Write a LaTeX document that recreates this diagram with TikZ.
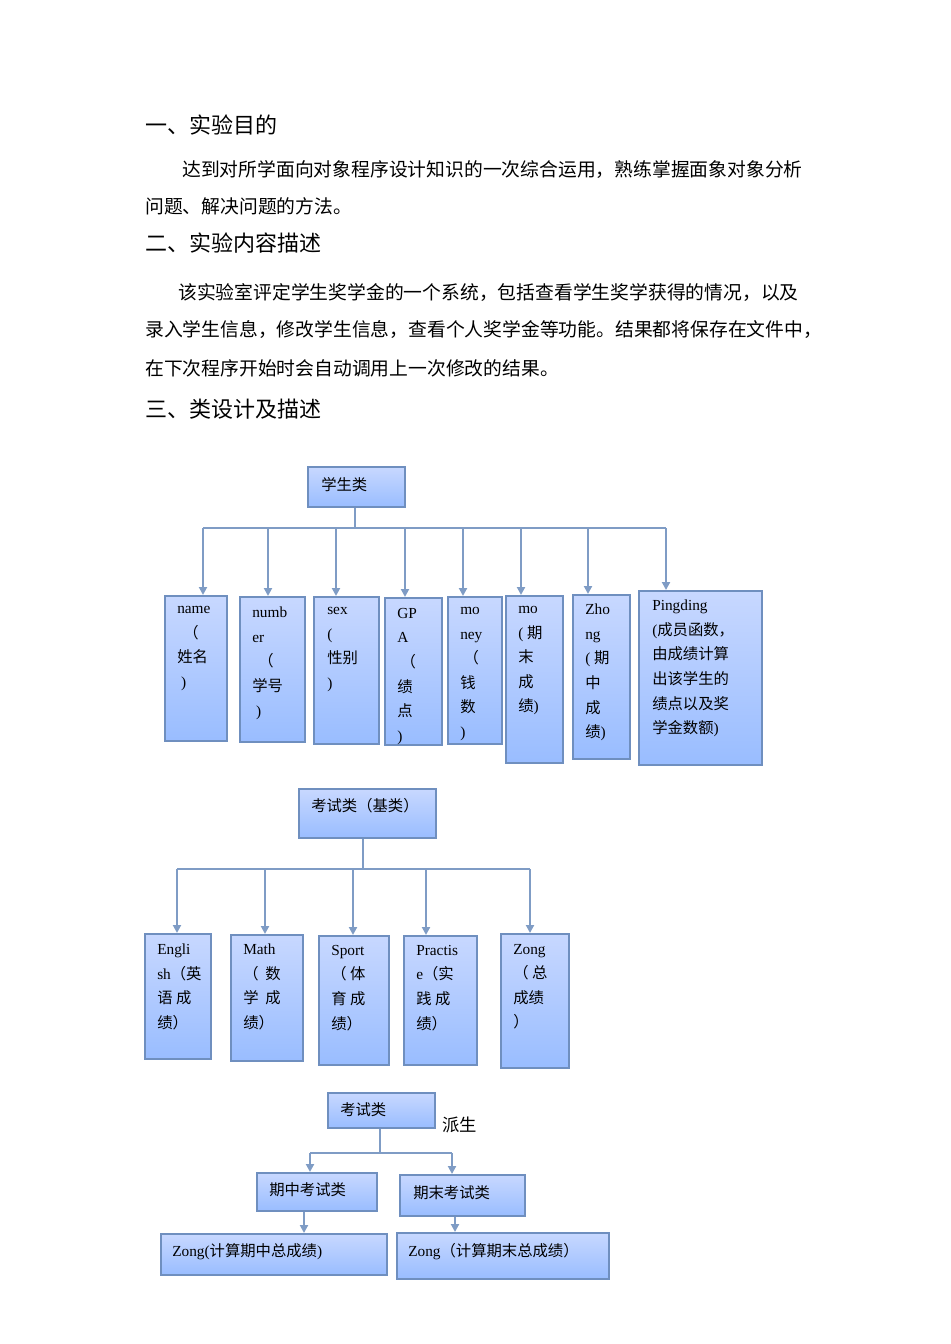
\documentclass[tikz,border=0pt]{standalone}
\usepackage{fontspec}
\setmainfont{Liberation Serif}
\newfontfamily\cjk{Noto Sans CJK SC}
\usetikzlibrary{arrows.meta}
\definecolor{lnc}{HTML}{7F9CC5}
\definecolor{bdc}{HTML}{6F8FBF}
\tikzset{
 bst/.style={draw=bdc, line width=1.6pt, top color=blue!6!cyan!8!white!85!blue, bottom color=blue!30!cyan!25!white!80!blue, inner sep=0pt},
 ln/.style={draw=lnc, line width=2pt},
 arr/.style={ln, -{Triangle[width=6pt,length=6pt]}},
 tx/.style={anchor=north west, align=left, inner sep=0pt, font=\fontsize{11.5}{18.4}\selectfont},
 hd/.style={anchor=west, inner sep=0pt, font=\fontsize{16.5}{20}\selectfont\cjk},
 pa/.style={anchor=west, inner sep=0pt, font=\fontsize{14.1}{20}\selectfont\cjk},
}
\newcommand\bx[5]{\node[bst, anchor=north west, minimum width={(#4-#2)*0.75pt}, minimum height={(#5-#3)*0.75pt}] (#1) at (#2,#3) {};}
\begin{document}
\begin{tikzpicture}[x=0.75pt,y=-0.75pt]
\useasboundingbox (0,0) rectangle (950,1344);
\node[hd] (h1) at (145,125) {一、实验目的};
\node[pa] (p1) at (182,170) {达到对所学面向对象程序设计知识的一次综合运用，熟练掌握面象对象分析};
\node[pa] (p2) at (145,206) {问题、解决问题的方法。};
\node[hd] (h2) at (145,243) {二、实验内容描述};
\node[pa] (p3) at (178,293) {该实验室评定学生奖学金的一个系统，包括查看学生奖学获得的情况，以及};
\node[pa] (p4) at (145,330) {录入学生信息，修改学生信息，查看个人奖学金等功能。结果都将保存在文件中，};
\node[pa] (p5) at (145,368) {在下次程序开始时会自动调用上一次修改的结果。};
\node[hd] (h3) at (145,409) {三、类设计及描述};

% tree 1
\bx{r1}{307}{466}{404}{506}
\node[tx] (r1t) at (321,477) {\cjk 学生类};
\bx{a1}{164}{595}{226}{740}
\bx{a2}{239}{596}{304}{741}
\bx{a3}{313}{596}{378}{743}
\bx{a4}{384}{597}{441}{744}
\bx{a5}{447}{596}{501}{743}
\bx{a6}{505}{595}{562}{762}
\bx{a7}{572}{594}{629}{758}
\bx{a8}{638}{590}{761}{764}
\node[tx] (a1t) at (177,606) {name\\\cjk\ \,（\\\cjk 姓名\\\ )};
\node[tx] (a2t) at (252,607) {numb\\er\\\cjk\ \,（\\\cjk 学号\\\ )};
\node[tx] (a3t) at (327,607) {sex\\(\\\cjk 性别\\)};
\node[tx] (a4t) at (397,608) {GP\\A\\\cjk\ （\\\cjk 绩\\\cjk 点\\)};
\node[tx] (a5t) at (460,607) {mo\\ney\\\cjk\ （\\\cjk 钱\\\cjk 数\\)};
\node[tx] (a6t) at (518,606) {mo\\( {\cjk 期}\\\cjk 末\\\cjk 成\\{\cjk 绩}\rlap{)}};
\node[tx] (a7t) at (585,604) {Zho\\ng\\( {\cjk 期}\\\cjk 中\\\cjk 成\\{\cjk 绩}\rlap{)}};
\node[tx] (a8t) at (652,600) {Pingding\\({\cjk 成员函数，}\\\cjk 由成绩计算\\\cjk 出该学生的\\\cjk 绩点以及奖\\{\cjk 学金数额}\rlap{)}};
\coordinate (j1) at (355,528);
\coordinate (l1) at (203,528);
\coordinate (e1) at (666,528);
\draw[ln] (r1.south -| j1) -- (j1);
\draw[ln] (l1) -- (e1);
\foreach \n/\x in {a1/203,a2/268,a3/336,a4/405,a5/463,a6/521,a7/588,a8/666}
  \draw[arr] (\x,528) -- (\n.north -| {(\x,0)});

% tree 2
\bx{r2}{298}{788}{435}{837}
\node[tx] (r2t) at (311,798) {\cjk 考试类（基类）};
\bx{b1}{144}{933}{210}{1058}
\bx{b2}{230}{934}{302}{1060}
\bx{b3}{318}{935}{388}{1064}
\bx{b4}{403}{935}{476}{1064}
\bx{b5}{500}{933}{568}{1067}
\node[tx] (b1t) at (157,944) {Engli\\sh{\cjk（英}\\\cjk 语\ 成\\\cjk 绩）};
\node[tx] (b2t) at (243,944) {Math\\\cjk （\ \ 数\\\cjk 学\ \ 成\\\cjk 绩）};
\node[tx] (b3t) at (331,945) {Sport\\\cjk （\ 体\\\cjk 育\ 成\\\cjk 绩）};
\node[tx] (b4t) at (416,945) {Practis\\e{\cjk（实}\\\cjk 践\ 成\\\cjk 绩）};
\node[tx] (b5t) at (513,944) {Zong\\\cjk （\ 总\\\cjk 成绩\\\cjk ）};
\coordinate (j2) at (363,869);
\draw[ln] (r2.south -| j2) -- (j2);
\draw[ln] (177,869) -- (530,869);
\foreach \n/\x in {b1/177,b2/265,b3/353,b4/426,b5/530}
  \draw[arr] (\x,869) -- (\n.north -| {(\x,0)});

% tree 3
\bx{r3}{327}{1092}{434}{1127}
\node[tx] (r3t) at (340,1102) {\cjk 考试类};
\node[tx] (ps) at (442,1117) {\fontsize{13}{16}\selectfont\cjk 派生};
\bx{c1}{256}{1172}{376}{1210}
\bx{c2}{399}{1174}{524}{1215}
\node[tx] (c1t) at (269,1182) {\cjk 期中考试类};
\node[tx] (c2t) at (413,1185) {\cjk 期末考试类};
\coordinate (j3) at (380,1153);
\draw[ln] (r3.south -| j3) -- (j3);
\draw[ln] (310,1153) -- (452,1153);
\draw[arr] (310,1153) -- (c1.north -| {(310,0)});
\draw[arr] (452,1153) -- (c2.north -| {(452,0)});
\bx{d1}{160}{1233}{386}{1274}
\bx{d2}{396}{1232}{608}{1278}
\node[tx] (d1t) at (172,1243) {Zong({\cjk 计算期中总成绩})};
\node[tx] (d2t) at (408,1243) {Zong{\cjk（计算期末总成绩）}};
\draw[arr] (c1.south -| {(304,0)}) -- (d1.north -| {(304,0)});
\draw[arr] (c2.south -| {(455,0)}) -- (d2.north -| {(455,0)});
\end{tikzpicture}
\end{document}
